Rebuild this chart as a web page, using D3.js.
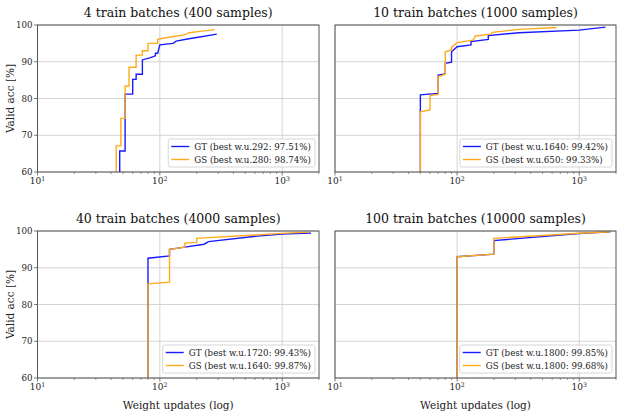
<!DOCTYPE html>
<html>
<head>
<meta charset="utf-8">
<script src="https://cdn.jsdelivr.net/npm/d3@7"></script>
<style>
  body { margin: 0; background: #fff; }
  svg { font-family: "DejaVu Serif", serif; }
</style>
</head>
<body>
<svg id="chart" width="623" height="416"></svg>
<script>
// values, one set per panel
var titles = ["4 train batches (400 samples)", "10 train batches (1000 samples)",
              "40 train batches (4000 samples)", "100 train batches (10000 samples)"];
var gtLabels = ["GT (best w.u.292: 97.51%)", "GT (best w.u.1640: 99.42%)",
                "GT (best w.u.1720: 99.43%)", "GT (best w.u.1800: 99.85%)"];
var gsLabels = ["GS (best w.u.280: 98.74%)", "GS (best w.u.650: 99.33%)",
                "GS (best w.u.1640: 99.87%)", "GS (best w.u.1800: 99.68%)"];

var gtX1 = [47, 47, 52, 52, 60, 60, 64, 64, 72, 72, 84, 92, 92, 96, 100, 128, 136, 168, 200, 292];
var gtY1 = [50, 65.7, 65.7, 81.2, 81.2, 85.2, 85.2, 86.6, 86.6, 90.5, 91.1, 91.6, 92.3, 92.3, 94.6, 95.0, 95.6, 96.2, 96.6, 97.51];
var gsX1 = [44, 44, 48, 48, 52, 52, 56, 56, 64, 64, 72, 72, 80, 80, 96, 96, 116, 158, 174, 204, 280];
var gsY1 = [50, 67.1, 67.1, 74.6, 74.6, 83.4, 83.4, 88.5, 88.5, 91.8, 91.8, 93.0, 93.0, 95.0, 95.0, 96.1, 96.6, 97.3, 97.9, 98.2, 98.74];

var gtX2 = [50, 50, 70, 70, 80, 80, 90, 90, 100, 130, 130, 180, 180, 320, 1000, 1640];
var gtY2 = [50, 81.0, 81.4, 86.4, 86.7, 89.6, 89.9, 92.7, 94.1, 94.6, 95.5, 96.1, 97.1, 97.9, 98.6, 99.42];
var gsX2 = [50, 50, 60, 60, 70, 70, 80, 80, 90, 90, 100, 135, 141, 190, 195, 320, 650];
var gsY2 = [50, 76.4, 76.9, 80.8, 81.1, 85.9, 86.6, 92.7, 93.2, 93.9, 95.2, 95.9, 97.0, 97.5, 98.0, 98.8, 99.33];

var gtX3 = [80, 80, 120, 120, 160, 230, 250, 630, 1000, 1720];
var gtY3 = [50, 92.6, 93.2, 95.0, 95.6, 96.4, 97.1, 98.6, 99.2, 99.43];
var gsX3 = [80, 80, 120, 120, 160, 160, 200, 200, 250, 600, 1000, 1640];
var gsY3 = [50, 85.6, 86.1, 95.0, 95.6, 96.7, 96.9, 98.0, 98.2, 98.9, 99.35, 99.7];

var gtX4 = [100, 100, 200, 200, 1000, 1800];
var gtY4 = [50, 93.0, 93.7, 97.4, 99.3, 99.75];
var gsX4 = [100, 100, 200, 200, 1000, 1800];
var gsY4 = [50, 93.0, 93.7, 98.0, 99.4, 99.8];

var yTicks = [60, 70, 80, 90, 100];
var xMajor = [10, 100, 1000];

var svg = d3.select("#chart");

function drawPanel(i, left, top, w, h, gtX, gtY, gsX, gsY, showY, showXLabel){
    var x = d3.scaleLog().domain([10, 2000]).range([left, left + w]);
    var y = d3.scaleLinear().domain([60, 100]).range([top + h, top]);
    var g = svg.append("g");

    g.append("clipPath").attr("id", "clip-" + i)
        .append("rect").attr("x", left).attr("y", top).attr("width", w).attr("height", h);

    // grid
    g.selectAll(".gy").data(yTicks).enter().append("line")
        .attr("x1", left).attr("x2", left + w)
        .attr("y1", d => y(d)).attr("y2", d => y(d))
        .attr("stroke", "#d4d4d4").attr("stroke-width", 1);
    g.selectAll(".gx").data(xMajor).enter().append("line")
        .attr("x1", d => x(d)).attr("x2", d => x(d))
        .attr("y1", top).attr("y2", top + h)
        .attr("stroke", "#d4d4d4").attr("stroke-width", 1);

    // lines
    var line = d3.line().x(d => x(d[0])).y(d => y(d[1]));
    g.append("path").datum(d3.zip(gtX, gtY)).attr("d", line)
        .attr("clip-path", "url(#clip-" + i + ")")
        .attr("fill", "none").attr("stroke", "#1a1aff").attr("stroke-width", 1.4);
    g.append("path").datum(d3.zip(gsX, gsY)).attr("d", line)
        .attr("clip-path", "url(#clip-" + i + ")")
        .attr("fill", "none").attr("stroke", "#ffaa1a").attr("stroke-width", 1.4);

    // frame
    g.append("rect").attr("x", left).attr("y", top).attr("width", w).attr("height", h)
        .attr("fill", "none").attr("stroke", "#555").attr("stroke-width", 1);

    // x ticks
    var minor = [];
    [10, 100, 1000].forEach(dec => {
        for (var k = 2; k <= 9; k++) if (dec * k <= 2000) minor.push(dec * k);
    });
    g.selectAll(".mt").data(minor).enter().append("line")
        .attr("x1", d => x(d)).attr("x2", d => x(d))
        .attr("y1", top + h).attr("y2", top + h + 2)
        .attr("stroke", "#555").attr("stroke-width", 0.6);
    g.selectAll(".Mt").data(xMajor).enter().append("line")
        .attr("x1", d => x(d)).attr("x2", d => x(d))
        .attr("y1", top + h).attr("y2", top + h + 3.5)
        .attr("stroke", "#555").attr("stroke-width", 0.8);
    var xl = g.selectAll(".xl").data(xMajor).enter().append("text")
        .attr("x", d => x(d)).attr("y", top + h + 12)
        .attr("text-anchor", "middle").attr("font-size", 9).attr("fill", "#222");
    xl.append("tspan").text("10");
    xl.append("tspan").attr("dy", -3.5).attr("font-size", 6.3).text(d => Math.round(Math.log10(d)));

    if (showY){
        g.selectAll(".yt").data(yTicks).enter().append("line")
            .attr("x1", left - 3.5).attr("x2", left)
            .attr("y1", d => y(d)).attr("y2", d => y(d))
            .attr("stroke", "#555").attr("stroke-width", 0.8);
        g.selectAll(".yl").data(yTicks).enter().append("text")
            .attr("x", left - 5).attr("y", d => y(d) + 3)
            .attr("text-anchor", "end").attr("font-size", 8.7).attr("fill", "#222")
            .text(d => d);
        g.append("text")
            .attr("transform", "translate(14," + (top + h / 2) + ") rotate(-90)")
            .attr("text-anchor", "middle").attr("font-size", 10.5).attr("fill", "#222")
            .text("Valid acc [%]");
    }
    if (showXLabel){
        g.append("text").attr("x", left + w / 2).attr("y", top + h + 31)
            .attr("text-anchor", "middle").attr("font-size", 10.5).attr("fill", "#222")
            .text("Weight updates (log)");
    }

    g.append("text").attr("x", left + w / 2).attr("y", top - 8)
        .attr("text-anchor", "middle").attr("font-size", 12.5).attr("fill", "#111")
        .text(titles[i]);

    // legend
    var lg = g.append("g");
    var box = lg.append("rect").attr("fill", "#fff").attr("fill-opacity", 0.85)
        .attr("stroke", "#ccc").attr("stroke-width", 0.8).attr("rx", 2);
    var t1 = lg.append("text").attr("font-size", 8.7).attr("fill", "#222").text(gtLabels[i]);
    var t2 = lg.append("text").attr("font-size", 8.7).attr("fill", "#222").text(gsLabels[i]);
    var tw = Math.max(t1.node().getComputedTextLength(), t2.node().getComputedTextLength());
    var bw = tw + 30, bh = 28;
    var bx = left + w - 4 - bw, by = top + h - 5 - bh;
    box.attr("x", bx).attr("y", by).attr("width", bw).attr("height", bh);
    t1.attr("x", bx + 26).attr("y", by + 10.5);
    t2.attr("x", bx + 26).attr("y", by + 23.5);
    lg.append("line").attr("x1", bx + 3).attr("x2", bx + 21).attr("y1", by + 7.5).attr("y2", by + 7.5)
        .attr("stroke", "#1a1aff").attr("stroke-width", 1.4);
    lg.append("line").attr("x1", bx + 3).attr("x2", bx + 21).attr("y1", by + 20.5).attr("y2", by + 20.5)
        .attr("stroke", "#ffaa1a").attr("stroke-width", 1.4);
}

drawPanel(0, 37.5, 25, 281.5, 147, gtX1, gtY1, gsX1, gsY1, true, false);
drawPanel(1, 335, 25, 281, 147, gtX2, gtY2, gsX2, gsY2, false, false);
drawPanel(2, 37.5, 231, 281.5, 147, gtX3, gtY3, gsX3, gsY3, true, true);
drawPanel(3, 335, 231, 281, 147, gtX4, gtY4, gsX4, gsY4, false, true);
</script>
</body>
</html>
